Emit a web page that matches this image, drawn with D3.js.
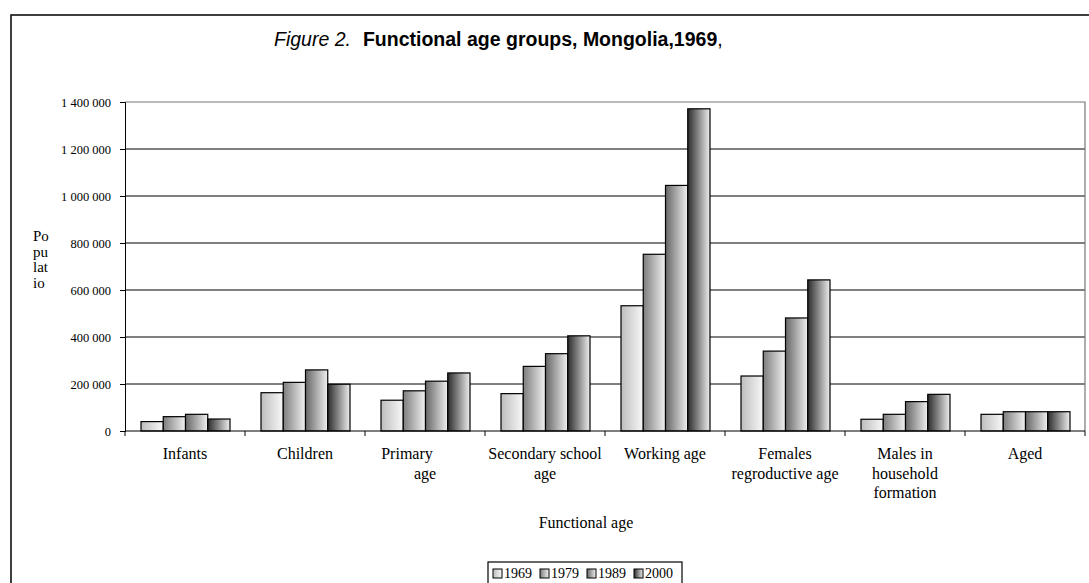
<!DOCTYPE html>
<html>
<head>
<meta charset="utf-8">
<script src="https://cdn.jsdelivr.net/npm/d3@7"></script>
<style>
  body { margin: 0; background: #fff; }
  svg { display: block; }
  .serif { font-family: "Liberation Serif", "Times New Roman", serif; fill: #000; }
</style>
</head>
<body>
<svg width="1089" height="583"></svg>
<script>
var svg = d3.select('svg');

// chart data
var categories = ['Infants', 'Children', 'Primary age', 'Secondary school age', 'Working age',
  'Females regroductive age', 'Males in household formation', 'Aged'];
// how each category label breaks into lines
var categoryLines = [['Infants'], ['Children'], ['Primary', 'age'], ['Secondary school', 'age'], ['Working age'],
  ['Females', 'regroductive age'], ['Males in', 'household', 'formation'], ['Aged']];
var years = ['1969', '1979', '1989', '2000'];
var pop1969 = [40000, 163000, 131000, 159000, 533000, 234000, 50000, 71000];
var pop1979 = [61000, 207000, 171000, 275000, 752000, 340000, 71000, 82000];
var pop1989 = [71000, 260000, 212000, 329000, 1045000, 481000, 125000, 82000];
var pop2000 = [51000, 199000, 247000, 405000, 1371000, 643000, 156000, 82000];
var yTicks = [0, 200000, 400000, 600000, 800000, 1000000, 1200000, 1400000];

var series = [pop1969, pop1979, pop1989, pop2000];
// left colour of each year's gradient
var gradLeft = ['#bdbdbd', '#7d7d7d', '#666666', '#2b2b2b'];
var gradRight = ['#f8f8f8', '#f2f2f2', '#f0f0f0', '#eeeeee'];

var plotLeft = 125, plotRight = 1085, plotTop = 102, plotBottom = 431;

var fmt = d3.formatLocale({decimal: '.', thousands: ' ', grouping: [3], currency: ['', '']}).format(',d');

var defs = svg.append('defs');
years.forEach(function(y, i) {
  var g = defs.append('linearGradient')
    .attr('id', 'grad' + i)
    .attr('x1', '0%').attr('x2', '100%').attr('y1', '0%').attr('y2', '0%');
  g.append('stop').attr('offset', '0%').attr('stop-color', gradLeft[i]);
  g.append('stop').attr('offset', '100%').attr('stop-color', gradRight[i]);
});

// outer frame (runs off the right and bottom edges)
svg.append('rect')
  .attr('x', 11).attr('y', 15)
  .attr('width', 1100).attr('height', 600)
  .attr('fill', 'none').attr('stroke', '#111').attr('stroke-width', 1.6);

// title
var title = svg.append('text')
  .attr('x', 274).attr('y', 46)
  .style('font-family', '"Liberation Sans", Arial, sans-serif')
  .style('font-size', '19.5px');
title.append('tspan').style('font-style', 'italic').text('Figure 2.');
title.append('tspan').attr('dx', 12).style('font-weight', 'bold').text('Functional age groups, Mongolia,1969');
title.append('tspan').text(',');

var xScale = d3.scaleBand()
  .domain(categories)
  .range([plotLeft, plotRight]);

var innerScale = d3.scaleBand()
  .domain(years)
  .range([16, 105]);

var yScale = d3.scaleLinear()
  .domain([0, 1400000])
  .range([plotBottom, plotTop]);

// gridlines
svg.append('g')
  .selectAll('line').data(yTicks.slice(1, -1)).enter().append('line')
  .attr('x1', plotLeft).attr('x2', plotRight)
  .attr('y1', function(d) { return yScale(d); })
  .attr('y2', function(d) { return yScale(d); })
  .attr('stroke', '#000').attr('stroke-width', 1);

// plot area border top/right
svg.append('path')
  .attr('d', 'M' + plotLeft + ',' + plotTop + 'H' + plotRight + 'V' + plotBottom)
  .attr('fill', 'none').attr('stroke', '#777').attr('stroke-width', 1.2);

// bars
series.forEach(function(vals, s) {
  svg.append('g').selectAll('rect').data(vals).enter().append('rect')
    .attr('x', function(d, i) { return xScale(categories[i]) + innerScale(years[s]); })
    .attr('y', function(d) { return yScale(d); })
    .attr('width', innerScale.bandwidth())
    .attr('height', function(d) { return plotBottom - yScale(d); })
    .attr('fill', 'url(#grad' + s + ')')
    .attr('stroke', '#000').attr('stroke-width', 1.2);
});

// y axis
var yAxis = d3.axisLeft(yScale)
  .tickValues(yTicks)
  .tickSize(5)
  .tickFormat(fmt);
var yAxisGroup = svg.append('g')
  .attr('transform', 'translate(' + plotLeft + ',0)')
  .call(yAxis);
yAxisGroup.select('.domain').attr('stroke', '#000');
yAxisGroup.selectAll('text')
  .attr('class', 'serif')
  .attr('x', -14)
  .style('font-size', '12.5px');

// x axis: ticks on category boundaries
var boundaries = categories.map(function(c) { return xScale(c); }).concat([plotRight]);
var xAxisGroup = svg.append('g');
xAxisGroup.append('line')
  .attr('x1', plotLeft).attr('x2', plotRight)
  .attr('y1', plotBottom).attr('y2', plotBottom)
  .attr('stroke', '#000');
xAxisGroup.selectAll('.tick').data(boundaries).enter().append('line')
  .attr('x1', function(d) { return d; }).attr('x2', function(d) { return d; })
  .attr('y1', plotBottom).attr('y2', plotBottom + 5)
  .attr('stroke', '#000');

// category labels
svg.append('g').selectAll('text').data(categoryLines).enter().append('text')
  .attr('class', 'serif')
  .style('font-size', '16px')
  .attr('text-anchor', 'middle')
  .each(function(lines, i) {
    var cx = xScale(categories[i]) + xScale.bandwidth() / 2;
    var t = d3.select(this);
    lines.forEach(function(l, k) {
      // "Primary" sits left of centre in the original
      var shift = (l === 'Primary') ? -18 : 0;
      t.append('tspan')
        .attr('x', cx + shift)
        .attr('y', 459 + k * 19.5)
        .text(l);
    });
  });

// axis titles
svg.append('text')
  .attr('class', 'serif')
  .style('font-size', '16px')
  .attr('text-anchor', 'middle')
  .attr('x', 586).attr('y', 528)
  .text('Functional age');

var yTitle = svg.append('text')
  .attr('class', 'serif')
  .style('font-size', '15px');
['Po', 'pu', 'lat', 'io'].forEach(function(p, k) {
  yTitle.append('tspan').attr('x', 33).attr('y', 241 + k * 15.7).text(p);
});

// legend
var legend = svg.append('g').attr('transform', 'translate(488,562)');
legend.append('rect')
  .attr('width', 194).attr('height', 30)
  .attr('fill', '#fff').attr('stroke', '#000').attr('stroke-width', 1.2);
legend.selectAll('g').data(years).enter().append('g')
  .attr('transform', function(d, i) { return 'translate(' + (5 + i * 47) + ',0)'; })
  .each(function(d, i) {
    d3.select(this).append('rect')
      .attr('x', 0).attr('y', 7)
      .attr('width', 9).attr('height', 9)
      .attr('fill', 'url(#grad' + i + ')')
      .attr('stroke', '#000');
    d3.select(this).append('text')
      .attr('class', 'serif')
      .style('font-size', '14px')
      .attr('x', 11).attr('y', 16)
      .text(d);
  });
</script>
</body>
</html>
